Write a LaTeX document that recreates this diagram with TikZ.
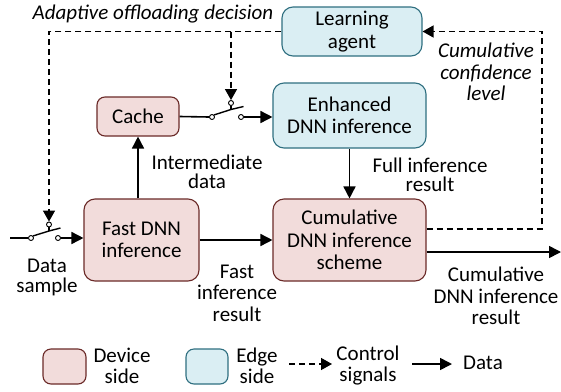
\documentclass[tikz,border=0pt]{standalone}
\usepackage{fontspec}
\setmainfont{Carlito}
\usetikzlibrary{arrows.meta}
\definecolor{devfill}{HTML}{F2DCDB}
\definecolor{devdraw}{HTML}{6B2A28}
\definecolor{edgefill}{HTML}{DAEEF3}
\definecolor{edgedraw}{HTML}{2F6F80}
\begin{document}
\begin{tikzpicture}[x=1pt,y=-1pt,
  box/.style={line width=1.1pt, rounded corners=11pt, align=center, inner sep=0pt,
    font=\fontsize{21}{22.5}\selectfont},
  dev/.style={box, draw=devdraw, fill=devfill},
  edg/.style={box, draw=edgedraw, fill=edgefill},
  lbl/.style={align=center, inner sep=0pt, font=\fontsize{21}{21.5}\selectfont},
  term/.style={circle, draw, fill=white, line width=0.9pt, inner sep=0pt, minimum size=5pt},
  blade/.style={line width=1.4pt},
  datal/.style={line width=1.6pt, -{Triangle[length=12pt,width=12pt]}},
  ctrl/.style={line width=1.4pt, dash pattern=on 6pt off 4pt, -{Triangle[length=11pt,width=12pt]}}]
\useasboundingbox (0,0) rectangle (561,391);
\fill[white] (0,0) rectangle (561,391);

% boxes
\node[edg, minimum width=140pt, minimum height=49pt] (la) at (352,31.5) {Learning\\agent};
\node[edg, minimum width=153pt, minimum height=65pt] (enh) at (349.5,115.5) {Enhanced\\DNN inference};
\node[dev, minimum width=82pt, minimum height=39pt, rounded corners=8pt] (cache) at (138,116.5) {Cache};
\node[dev, minimum width=115pt, minimum height=82pt] (fast) at (141.5,240) {Fast DNN\\inference};
\node[dev, minimum width=153pt, minimum height=82pt] (cum) at (349.5,240) {Cumulative\\DNN inference\\scheme};

% cache switch
\node[term] (cl) at (212,117) {};
\node[term] (cr) at (241,117) {};
\node[term] (ct) at (231,103) {};
\coordinate (cbend) at (231,109.5);
\draw[blade] (cl.north east) -- (cbend) -- (243.5,106.5);
\draw[blade] (cbend) -- (ct.south);
\draw[line width=1.6pt] (cache.east) -- (cl.west);
\draw[datal] (cr.east) -- (enh.west |- cr.east);

% data sample switch
\coordinate (din) at (10,238);
\node[term] (dl) at (31,238) {};
\node[term] (dr) at (58,238) {};
\node[term] (dt) at (49,224.5) {};
\coordinate (dbend) at (49,231);
\draw[blade] (dl.north east) -- (dbend) -- (60.5,228);
\draw[blade] (dbend) -- (dt.south);
\draw[line width=1.6pt] (din) -- (dl.west);
\draw[datal] (dr.east) -- (fast.west |- dr.east);

% data connectors
\draw[datal] (fast.north -| cache.south) -- (cache.south);
\draw[datal] (fast.east) -- (cum.west);
\draw[datal] (enh.south) -- (cum.north);
\coordinate (cumres) at ([yshift=-12pt]cum.east);
\coordinate (outend) at (561,252);
\draw[datal] (cumres) -- (outend);

% control connectors
\draw[ctrl] (la.west) -| (dt.north);
\coordinate (brk) at (ct.north |- la.west);
\draw[ctrl] (brk) -- (ct.north);
\coordinate (cumout) at ([yshift=11pt]cum.east);
\coordinate (rc) at (542,31.5);
\draw[ctrl] (cumout) -| (rc) -- (la.east);

% labels
\node[lbl, font=\fontsize{21}{21}\itshape] (adl) at (153,14) {Adaptive offloading decision};
\node[lbl, font=\fontsize{21}{21.5}\itshape] (ccl) at (486,72) {Cumulative\\confidence\\level};
\node[lbl, font=\fontsize{21}{19}\selectfont] (iml) at (207,172) {Intermediate\\data};
\node[lbl, font=\fontsize{21}{19}\selectfont] (fil) at (430,175) {Full inference\\result};
\node[lbl, font=\fontsize{21}{21.5}\selectfont] (frl) at (237,293) {Fast\\inference\\result};
\node[lbl, font=\fontsize{21}{20.5}\selectfont] (dsl) at (47,277.5) {Data\\sample};
\node[lbl] (crl) at (496,296) {Cumulative\\DNN inference\\result};

% legend
\node[dev, minimum width=43pt, minimum height=35pt, rounded corners=8pt] (lgd) at (64.5,366.5) {};
\node[lbl, font=\fontsize{21}{21}\selectfont] (lgdt) at (122,366) {Device\\side};
\node[edg, minimum width=42pt, minimum height=35pt, rounded corners=8pt] (lge) at (207,366.5) {};
\node[lbl, font=\fontsize{21}{21}\selectfont] (lget) at (257,366) {Edge\\side};
\coordinate (lcs) at (289,364);
\coordinate (lce) at (332,364);
\draw[ctrl] (lcs) -- (lce);
\node[lbl, font=\fontsize{21}{21}\selectfont] (lct) at (368,366) {Control\\signals};
\coordinate (lds) at (412,364);
\coordinate (lde) at (452,364);
\draw[datal] (lds) -- (lde);
\node[lbl] (ldt) at (483,363) {Data};
\end{tikzpicture}
\end{document}
